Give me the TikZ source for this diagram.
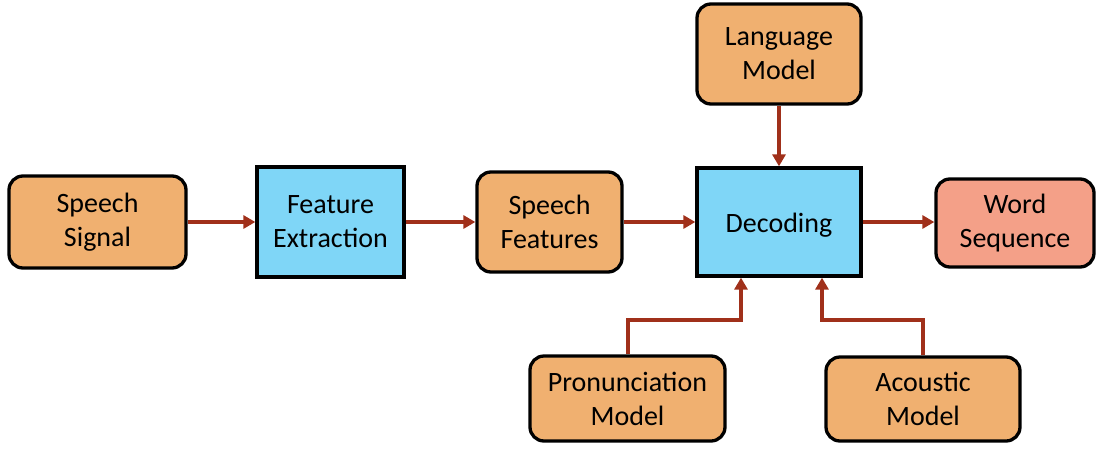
\documentclass[tikz,border=0pt]{standalone}
\usepackage{fontspec}
\setmainfont{Carlito}
\usetikzlibrary{arrows.meta}
\definecolor{boxorange}{HTML}{F0B070}
\definecolor{boxblue}{HTML}{7FD6F7}
\definecolor{boxsalmon}{HTML}{F4A088}
\definecolor{flowred}{HTML}{A0301A}
\tikzset{
  blk/.style={draw=black, line width=3.3pt, align=center, inner sep=0pt,
    font=\fontsize{28}{34}\selectfont,
    % a tall strut on the first line sets the text a little lower
    execute at begin node={\rule{0pt}{26pt}}},
  roundblk/.style={blk, rounded corners=14pt, fill=boxorange},
  procblk/.style={blk, fill=boxblue},
  outblk/.style={blk, rounded corners=14pt, fill=boxsalmon},
  flow/.style={draw=flowred, line width=3.2pt,
    -{Triangle[length=12pt,width=13pt]}},
}
\begin{document}
\begin{tikzpicture}[x=1pt,y=-1pt]
\useasboundingbox (0,0) rectangle (1098,448);
% main pipeline
\node[roundblk, minimum width=177pt, minimum height=92pt] (sig) at (97.5,222) {Speech\\Signal};
\node[procblk, minimum width=147pt, minimum height=110pt] (fe) at (330.5,222) {Feature\\Extraction};
\node[roundblk, minimum width=145pt, minimum height=100pt] (sf) at (549.5,222) {Speech\\Features};
\node[procblk, minimum width=164pt, minimum height=108pt] (dec) at (779,222) {Decoding};
\node[outblk, minimum width=158pt, minimum height=88pt] (ws) at (1015,223) {Word\\Sequence};
% knowledge sources
\node[roundblk, minimum width=164pt, minimum height=100pt] (lm) at (779,54) {Language\\Model};
\node[roundblk, minimum width=195pt, minimum height=85pt] (pm) at (627.5,398.5) {Pronunciation\\Model};
\node[roundblk, minimum width=194pt, minimum height=84pt] (am) at (923,399) {Acoustic\\Model};
% connectors
\draw[flow] (sig.east) -- (fe.west);
\draw[flow] (fe.east) -- (sf.west);
\draw[flow] (sf.east) -- (dec.west);
\draw[flow] (dec.east) -- (ws.west |- dec.east);
\draw[flow] (lm.south) -- (dec.north);
\coordinate (pmbend) at (628,320);
\coordinate (ambend) at (923,320);
\draw[flow] (pm.north -| pmbend) -- (pmbend) -- (741,320) -- (741,276 |- dec.south);
\draw[flow] (am.north) -- (ambend) -- (822,320) -- (822,276 |- dec.south);
\end{tikzpicture}
\end{document}
